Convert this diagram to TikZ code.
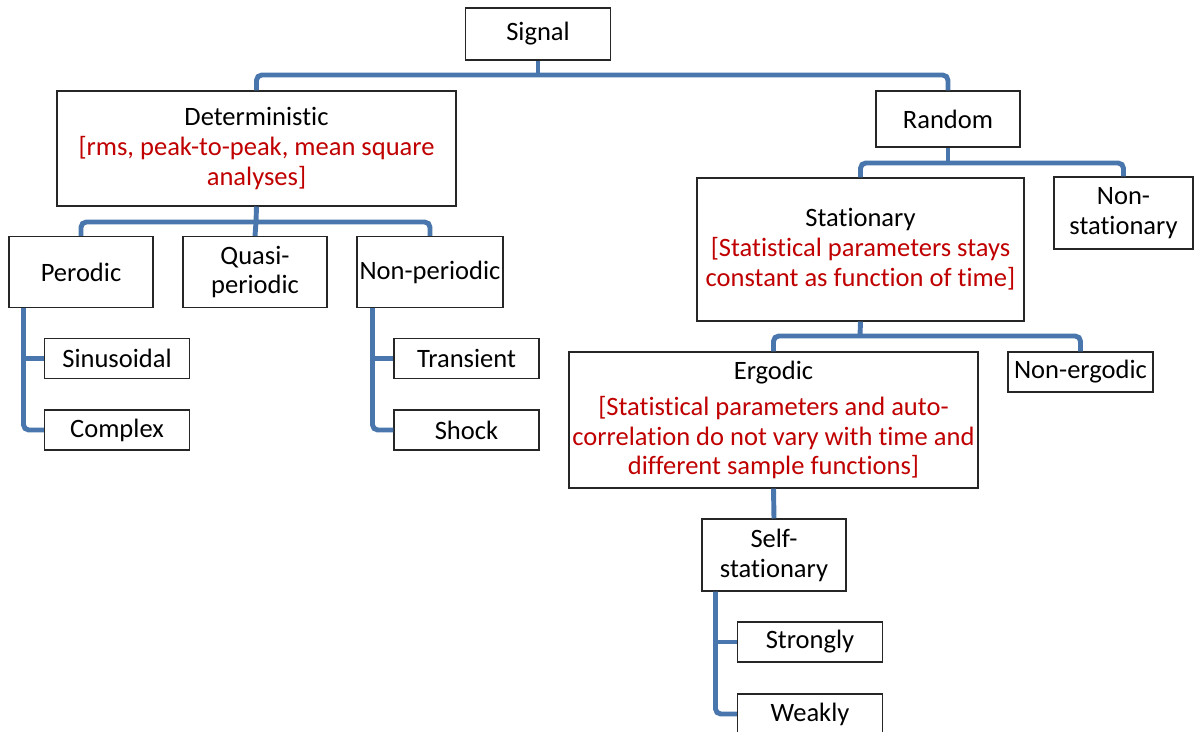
\documentclass[tikz,border=0pt]{standalone}
\usepackage{fontspec}
\setmainfont{Carlito}[Ligatures={NoCommon,NoRare,NoContextual}]
\definecolor{linkblue}{RGB}{74,118,174}
\definecolor{notered}{RGB}{192,0,0}
\newdimen\pxu \pxu=0.02cm

\tikzset{
  box/.style={draw=black!85, line width=0.6pt, fill=white, inner sep=1pt,
    align=center, font=\fontsize{15.1pt}{17pt}\selectfont},
  link/.style={draw=linkblue, line width=2.8pt, rounded corners=3pt},
  note/.style={text=notered}
}

\begin{document}
\begin{tikzpicture}[x=0.02cm, y=-0.02cm]
    \useasboundingbox (0,0) rectangle (1194,731);
    % upper levels
    \node[box, minimum width=145\pxu, minimum height=52\pxu] (signal) at (538,34) {Signal};
    \node[box, minimum width=399\pxu, minimum height=115\pxu] (det) at (256.5,148.5)
      {Deterministic\\ \color{notered}[rms, peak-to-peak, mean square\\ \color{notered}analyses]};
    \node[box, minimum width=144\pxu, minimum height=56\pxu] (rand) at (948,119) {Random};
    \node[box, minimum width=144\pxu, minimum height=71\pxu] (perodic) at (81,272) {Perodic};
    \node[box, minimum width=144\pxu, minimum height=71\pxu] (quasi) at (255,272) {Quasi-\\periodic};
    \node[box, minimum width=146\pxu, minimum height=71\pxu] (nonper) at (430,272) {Non-periodic};
    \node[box, minimum width=327\pxu, minimum height=143\pxu] (stat) at (860.5,249.5)
      {Stationary\\ \color{notered}[Statistical parameters stays\\ \color{notered}constant as function of time]};
    \node[box, minimum width=139\pxu, minimum height=72\pxu] (nonstat) at (1123.5,213) {Non-\\stationary};
    \node[box, minimum width=409\pxu, minimum height=136\pxu] (ergodic) at (773.5,420)
      {Ergodic\\[6\pxu] \color{notered}[Statistical parameters and auto-\\
       \color{notered}correlation do not vary with time and\\ \color{notered}different sample functions]};
    \node[box, minimum width=144\pxu, minimum height=72\pxu] (selfst) at (774,555) {Self-\\stationary};
    % leaves
    \foreach \name/\txt/\x/\y in {sinus/Sinusoidal/117/358.5, complex/Complex/117/430,
        trans/Transient/466.5/358.5, shock/Shock/466.5/430, nonerg/Non-ergodic/1080.5/372,
        strongly/Strongly/810/642, weakly/Weakly/810/714} {
      \node[box, minimum width=145\pxu, minimum height=40\pxu] (\name) at (\x,\y) {\txt};
    }
    % junctions of the bars
    \coordinate (j1) at (538,75);
    \coordinate (j2) at (256,222);
    \coordinate (j3) at (948,163);
    \coordinate (j4) at (860,336);
    \begin{scope}[on background layer/.try]
    \draw[link] (signal.south) -- (j1);
    \draw[link] (det.north) |- (j1) -| (rand.north);
    \draw[link] (det.south) -- (j2);
    \draw[link] (perodic.north) |- (j2) -| (nonper.north);
    \draw[link] (j2) -- (quasi.north);
    \draw[link] ([xshift=15\pxu]perodic.south west) |- (complex.west);
    \draw[link] (sinus.west) -- ++(-21,0);
    \draw[link] ([xshift=16\pxu]nonper.south west) |- (shock.west);
    \draw[link] (trans.west) -- ++(-21,0);
    \draw[link] (rand.south) -- (j3);
    \draw[link] (stat.north) |- (j3) -| (nonstat.north);
    \draw[link] (stat.south) -- (j4);
    \draw[link] (ergodic.north) |- (j4) -| (nonerg.north);
    \draw[link] (ergodic.south) -- (selfst.north);
    \draw[link] ([xshift=14\pxu]selfst.south west) |- (weakly.west);
    \draw[link] (strongly.west) -- ++(-22,0);
    \end{scope}
  \end{tikzpicture}
\end{document}
